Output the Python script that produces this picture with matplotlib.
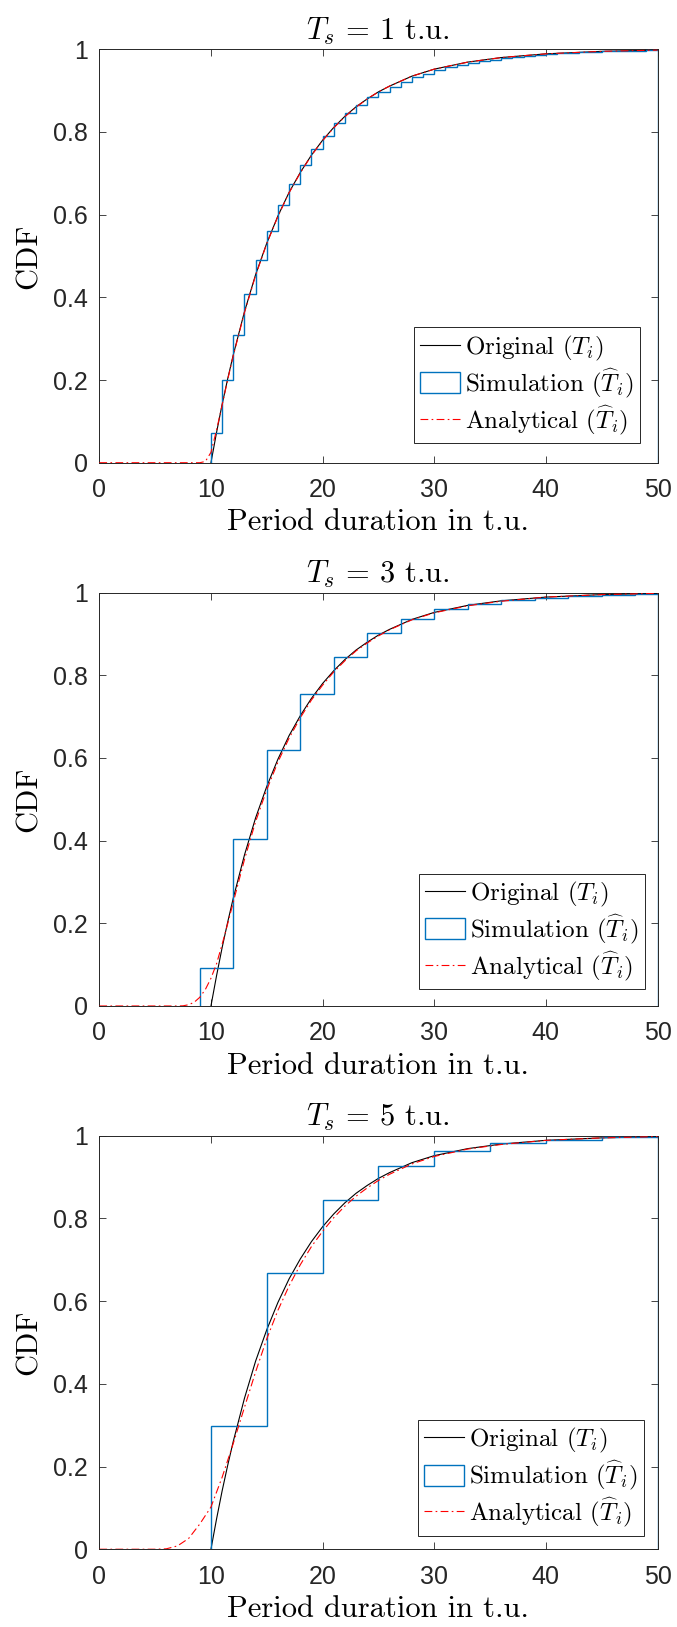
import numpy as np
import matplotlib
matplotlib.use("Agg")
import matplotlib.pyplot as plt
from matplotlib.lines import Line2D
from matplotlib.patches import Patch

plt.rcParams["font.family"] = ["Liberation Sans", "DejaVu Sans"]
plt.rcParams["mathtext.fontset"] = "cm"

# sampling periods of the three panels
TS = [1, 3, 5]

# original CDF (T_i), same in every panel
X_ORIG = [10, 10.5, 11, 11.5, 12, 13, 14, 15, 16, 17, 18, 19, 20, 21, 22, 23, 24, 25,
          26, 28, 30, 33, 36, 40, 45, 50]
Y_ORIG = [0.0, 0.073, 0.141, 0.203, 0.261, 0.365, 0.455, 0.531, 0.597, 0.654, 0.702,
          0.744, 0.780, 0.811, 0.838, 0.861, 0.880, 0.897, 0.911, 0.935, 0.952, 0.969,
          0.980, 0.989, 0.995, 0.998]

# simulated (histogram cdf) -- bin edges and heights
SIM_EDGES_1 = list(range(10, 51))
SIM_VALS_1 = [0.071, 0.200, 0.310, 0.408, 0.491, 0.561, 0.623, 0.675, 0.719, 0.760,
              0.791, 0.821, 0.845, 0.866, 0.884, 0.897, 0.910, 0.921, 0.932, 0.941,
              0.949, 0.956, 0.962, 0.967, 0.971, 0.975, 0.979, 0.982, 0.984, 0.987,
              0.989, 0.990, 0.992, 0.993, 0.994, 0.995, 0.996, 0.997, 0.997, 0.998]
SIM_EDGES_3 = [9, 12, 15, 18, 21, 24, 27, 30, 33, 36, 39, 42, 45, 48, 50]
SIM_VALS_3 = [0.091, 0.404, 0.619, 0.755, 0.844, 0.902, 0.937, 0.960, 0.973, 0.982,
              0.988, 0.992, 0.995, 0.997]
SIM_EDGES_5 = [10, 15, 20, 25, 30, 35, 40, 45, 50]
SIM_VALS_5 = [0.298, 0.668, 0.844, 0.926, 0.964, 0.982, 0.991, 0.996]

# analytical CDF of the sampled durations
X_ANA_1 = [0, 9, 9.5, 10, 10.5, 11, 11.5, 12, 13, 14, 15, 16, 17, 18, 19, 20, 21, 22,
           23, 24, 25, 26, 28, 30, 33, 36, 40, 45, 50]
Y_ANA_1 = [0.0, 0.0, 0.003, 0.025, 0.079, 0.139, 0.201, 0.259, 0.363, 0.453, 0.530,
           0.596, 0.653, 0.701, 0.743, 0.779, 0.810, 0.837, 0.860, 0.880, 0.897, 0.911,
           0.935, 0.952, 0.969, 0.980, 0.989, 0.995, 0.998]
X_ANA_3 = [0, 7, 7.5, 8, 8.5, 9, 9.5, 10, 10.5, 11, 11.5, 12, 13, 14, 15, 16, 17, 18,
           19, 20, 21, 22, 23, 24, 25, 26, 28, 30, 33, 36, 40, 45, 50]
Y_ANA_3 = [0.0, 0.0, 0.0004, 0.003, 0.009, 0.021, 0.040, 0.067, 0.102, 0.149, 0.199,
           0.251, 0.354, 0.446, 0.523, 0.590, 0.648, 0.697, 0.740, 0.776, 0.808, 0.835,
           0.859, 0.878, 0.895, 0.910, 0.934, 0.951, 0.968, 0.979, 0.989, 0.995, 0.998]
X_ANA_5 = [0, 5, 6, 7, 8, 9, 10, 11, 12, 13, 14, 15, 16, 17, 18, 19, 20, 21, 22, 23,
           24, 25, 26, 28, 30, 33, 36, 40, 45, 50]
Y_ANA_5 = [0.0, 0.0, 0.001, 0.008, 0.026, 0.061, 0.102, 0.174, 0.256, 0.343, 0.429,
           0.509, 0.578, 0.637, 0.688, 0.732, 0.769, 0.802, 0.830, 0.854, 0.874, 0.892,
           0.907, 0.932, 0.950, 0.968, 0.979, 0.989, 0.995, 0.998]

PANELS = [
    (SIM_EDGES_1, SIM_VALS_1, X_ANA_1, Y_ANA_1),
    (SIM_EDGES_3, SIM_VALS_3, X_ANA_3, Y_ANA_3),
    (SIM_EDGES_5, SIM_VALS_5, X_ANA_5, Y_ANA_5),
]

BLUE = "#0072BD"
AXC = "#262626"
DASHDOT = (7, 3, 1.5, 3)
SERIF = "cmr10"   # latex-like roman for labels, titles, legend

fig = plt.figure(figsize=(6.77, 16.27), dpi=100)
bottoms = [0.7156, 0.3817, 0.0478]
leg_anchor = [(0.969, 0.048), (0.978, 0.041), (0.975, 0.033)]

for i, (edges, vals, xa, ya) in enumerate(PANELS):
    ax = fig.add_axes([0.1467, bottoms[i], 0.8245, 0.2541])
    ax.plot(X_ORIG, Y_ORIG, color="black", lw=0.8, zorder=2.8)
    ax.stairs(vals, edges, baseline=0, color=BLUE, lw=1.0, zorder=2.9)
    ax.plot(xa, ya, color="red", lw=0.8, dashes=DASHDOT, zorder=3.0)

    ax.set_xlim(0, 50)
    ax.set_ylim(0, 1)
    ax.set_xticks([0, 10, 20, 30, 40, 50])
    ax.set_yticks([0, 0.2, 0.4, 0.6, 0.8, 1])
    ax.set_yticklabels(["0", "0.2", "0.4", "0.6", "0.8", "1"])
    ax.tick_params(direction="in", top=True, right=True, length=5, width=0.6,
                   color=AXC, labelcolor=AXC, labelsize=18)
    ax.tick_params(axis="x", pad=11)
    ax.tick_params(axis="y", pad=8.5)
    for sp in ax.spines.values():
        sp.set_color(AXC)
        sp.set_linewidth(0.7)

    ax.set_title(r"$T_s\,=\,%d$ t.u." % TS[i], fontsize=22, pad=7, family=SERIF)
    ax.set_xlabel("Period duration in t.u.", fontsize=22, labelpad=5, family=SERIF)
    ax.set_ylabel("CDF", fontsize=22, labelpad=7, family=SERIF)

    handles = [
        Line2D([], [], color="black", lw=0.8),
        Patch(facecolor="none", edgecolor=BLUE, lw=1.0),
        Line2D([], [], color="red", lw=0.8, dashes=DASHDOT),
    ]
    labels = [r"Original ($T_i$)",
              r"Simulation ($\widehat{T}_i$)",
              r"Analytical ($\widehat{T}_i$)"]
    leg = ax.legend(handles, labels, loc="lower right", bbox_to_anchor=leg_anchor[i],
                    borderaxespad=0, prop={"family": SERIF, "size": 18},
                    fancybox=False, framealpha=1,
                    edgecolor=AXC, handlelength=1.6, handletextpad=0.2,
                    handleheight=0.9, labelspacing=0.15, borderpad=0.25)
    leg.get_frame().set_linewidth(0.7)

fig.savefig("out.png", dpi=100)
